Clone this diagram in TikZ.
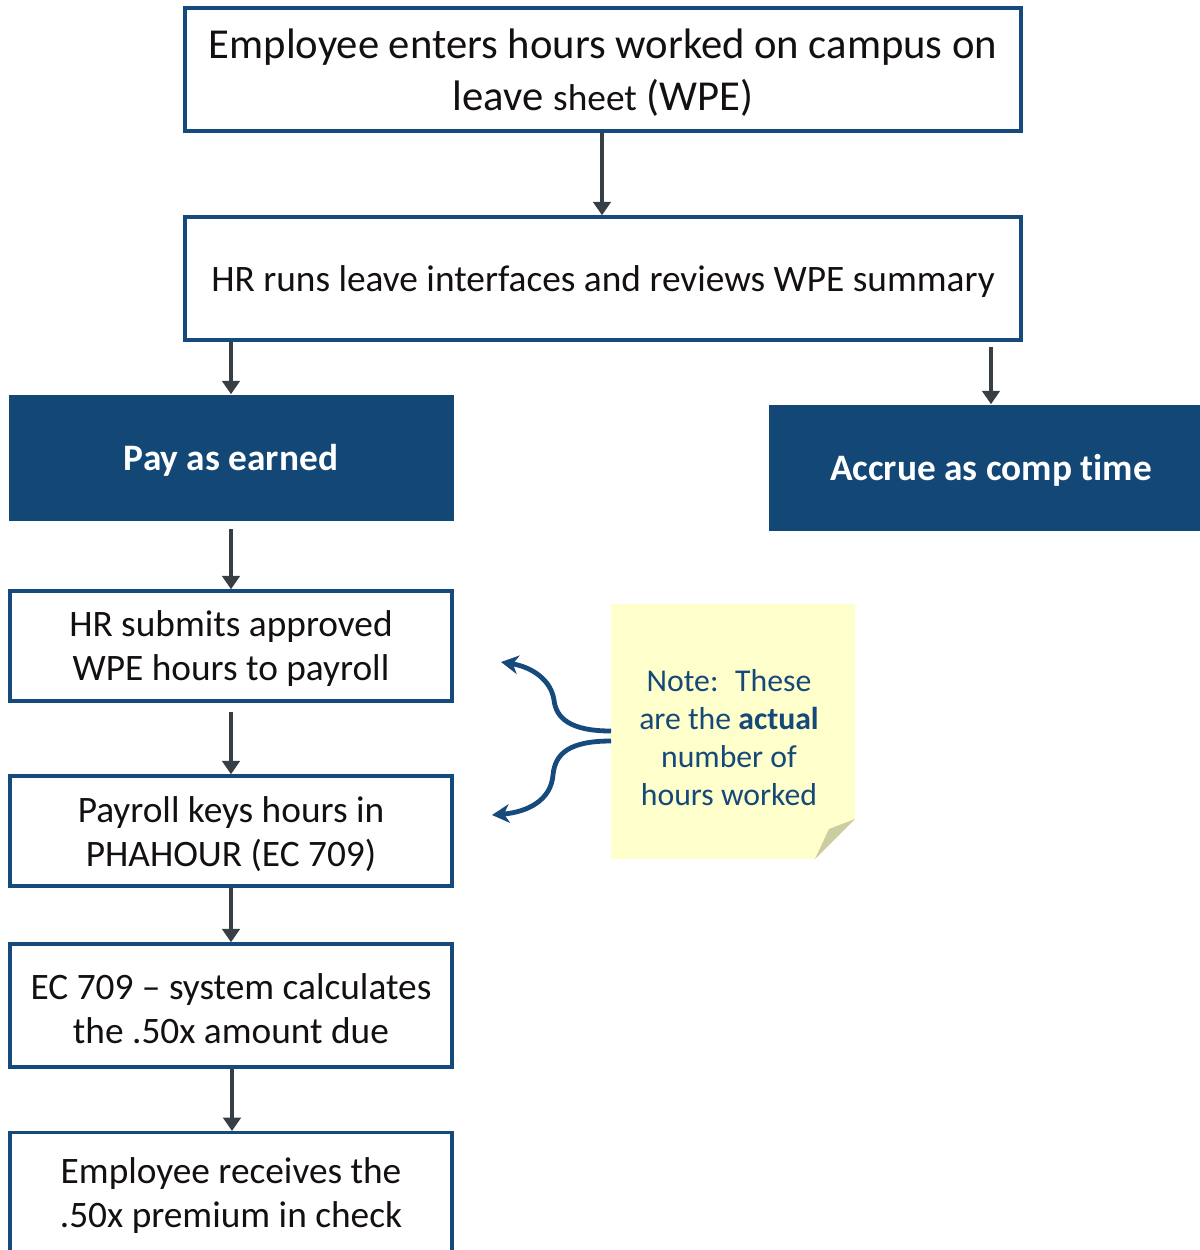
\documentclass[tikz,border=0pt]{standalone}
\usepackage{fontspec}
\setmainfont{Carlito}[Ligatures=NoCommon]
\usetikzlibrary{arrows.meta}
\definecolor{boxblue}{HTML}{174A7C}
\definecolor{fillblue}{HTML}{134876}
\definecolor{arrowgray}{HTML}{373F45}
\definecolor{notefill}{HTML}{FFFFCC}
\definecolor{notefold}{HTML}{CDCDA2}
\definecolor{notetext}{HTML}{15497A}
\definecolor{textdark}{HTML}{141010}
\tikzset{
  flowbox/.style={draw=boxblue, line width=2.6pt, fill=white, inner sep=0pt},
  headbox/.style={fill=fillblue, inner sep=0pt},
  headtext/.style={align=center, text=white, font=\fontsize{28}{33}\selectfont\bfseries},
  flowarrow/.style={draw=arrowgray, line width=3pt, -{Triangle[length=10pt,width=13pt]}},
  notearrow/.style={draw=boxblue, line width=3.6pt, -{Stealth[length=13pt,width=14pt,inset=4pt]}},
  bigtext/.style={align=center, text=textdark, font=\fontsize{32}{39}\selectfont},
  midtext/.style={align=center, text=textdark, font=\fontsize{28}{33}\selectfont},
}
\begin{document}
\begin{tikzpicture}[x=0.75pt,y=-0.75pt]
\useasboundingbox (0,0) rectangle (1200,1250);
\clip (0,0) rectangle (1200,1250);

% boxes
\node[flowbox, minimum width=836*0.75pt, minimum height=123*0.75pt] (enter) at (603,69.5) {};
\node[flowbox, minimum width=836*0.75pt, minimum height=123*0.75pt] (review) at (603,278.5) {};
\node[headbox, minimum width=445*0.75pt, minimum height=126*0.75pt] (pay) at (231,457.5) {};
\node[headbox, minimum width=460*0.75pt, minimum height=126*0.75pt] (accrue) at (999,467.5) {};
\node[flowbox, minimum width=442*0.75pt, minimum height=110*0.75pt] (submit) at (231,646) {};
\node[flowbox, minimum width=442*0.75pt, minimum height=110*0.75pt] (keys) at (231,831) {};
\node[flowbox, minimum width=442*0.75pt, minimum height=123*0.75pt] (calc) at (231,1005.5) {};
\node[flowbox, minimum width=442*0.75pt, minimum height=150*0.75pt, anchor=north] (check) at (231,1131) {};

% box texts
\node[bigtext] (entertext) at (603,73)
  {Employee enters hours worked on campus on\\leave {\fontsize{28}{33}\selectfont sheet} (WPE)};
\node[midtext] (reviewtext) at (603,282) {HR runs leave interfaces and reviews WPE summary};
\node[headtext] (paytext) at (231,460.5) {Pay as earned};
\node[headtext] (accruetext) at (991,470.5) {Accrue as comp time};
\node[midtext] (submittext) at (231,649) {HR submits approved\\WPE hours to payroll};
\node[midtext] (keystext) at (231,834) {Payroll keys hours in\\PHAHOUR (EC 709)};
\node[midtext] (calctext) at (231,1008.5) {EC 709 -- system calculates\\the .50x amount due};
\node[midtext] (checktext) at (231,1196) {Employee receives the\\.50x premium in check};

% connectors
\coordinate (a1) at (602,133);
\draw[flowarrow] (enter.south -| a1) -- (review.north -| a1);
\draw[flowarrow] (review.south -| pay) -- (pay.north);
\coordinate (acx) at (991,0);
\draw[flowarrow] ([yshift=-4pt]review.south -| acx) -- (accrue.north -| acx);
\coordinate (p1) at (231,529);
\draw[flowarrow] (p1) -- (submit.north);
\coordinate (p2) at (231,712);
\draw[flowarrow] (p2) -- (keys.north);
\draw[flowarrow] (keys.south) -- (calc.north);
\coordinate (c1) at (232,0);
\draw[flowarrow] (calc.south -| c1) -- (check.north -| c1);

% note with folded corner
\fill[notefill] (611,604) -- (855,604) -- (855,819) -- (815,859) -- (611,859) -- cycle;
\fill[notefold] (815,859) -- (855,819) -- (829,829) -- cycle;
\node[font=\fontsize{23.8}{28.5}\selectfont, text=notetext, align=center] (note) at (729,738)
  {Note:~ These\\are the \textbf{actual}\\number of\\hours worked};

\coordinate (n1) at (611,731);
\coordinate (n2) at (611,741);
\coordinate (t1) at (501,662);
\coordinate (t2) at (492,815);
\draw[notearrow] (n1) .. controls (570,731) and (556,718) .. (554,700)
  .. controls (551,680) and (532,667) .. (t1);
\draw[notearrow] (n2) .. controls (570,741) and (555,753) .. (553,775)
  .. controls (551,800) and (528,812) .. (t2);
\end{tikzpicture}
\end{document}
